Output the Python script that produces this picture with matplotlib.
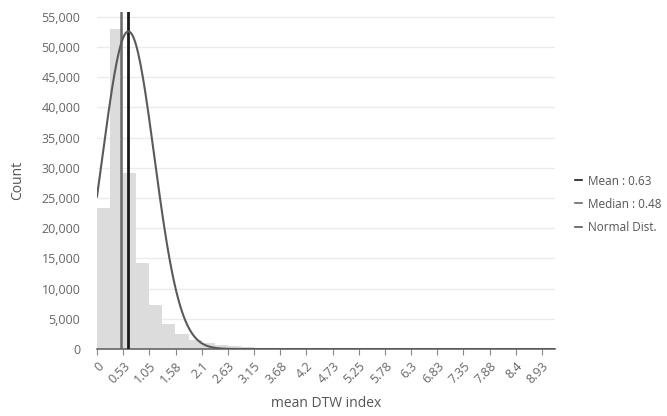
import matplotlib
matplotlib.use("Agg")
import matplotlib.pyplot as plt
import numpy as np
from matplotlib.lines import Line2D

plt.rcParams["font.family"] = ["Open Sans", "DejaVu Sans"]

# histogram of mean DTW index (bin width 0.2625)
bin_width = 0.2625
counts = [23400, 53000, 29100, 14200, 7300, 4150, 2450, 1550, 1000, 700,
          450, 300, 200, 150, 100, 80, 60, 50, 40, 30,
          25, 20, 15, 12, 10, 8, 6, 5, 4, 3,
          3, 2, 2, 1, 1]
mean_val = 0.63
median_val = 0.48
# normal curve parameters
norm_peak = 52600
norm_sigma = 0.52

x_ticks = [0, 0.53, 1.05, 1.58, 2.1, 2.63, 3.15, 3.68, 4.2, 4.73, 5.25,
           5.78, 6.3, 6.83, 7.35, 7.88, 8.4, 8.93]
x_tick_labels = ["0", "0.53", "1.05", "1.58", "2.1", "2.63", "3.15", "3.68",
                 "4.2", "4.73", "5.25", "5.78", "6.3", "6.83", "7.35", "7.88",
                 "8.4", "8.93"]
y_ticks = list(range(0, 55001, 5000))

fig = plt.figure(figsize=(6.67, 4.16), dpi=100)
ax = fig.add_axes([0.1454, 0.161, 0.6866, 0.81])

edges = np.arange(len(counts)) * bin_width
ax.bar(edges, counts, width=bin_width, align="edge", color="#dcdcdc",
       edgecolor="none", zorder=2)

xs = np.linspace(0, len(counts) * bin_width, 400)
ax.plot(xs, norm_peak * np.exp(-(xs - mean_val) ** 2 / (2 * norm_sigma ** 2)),
        color="#5a5a5a", lw=1.5, zorder=4)

ax.axvline(median_val, color="#6a6a6a", lw=1.8, zorder=3)
ax.axvline(mean_val, color="#1a1a1a", lw=2, zorder=3)

ax.set_xlim(0, len(counts) * bin_width)
ax.set_ylim(0, 55800)
ax.set_yticks(y_ticks)
ax.set_yticklabels([f"{v:,}" for v in y_ticks])
ax.set_xticks(x_ticks)
ax.set_xticklabels(x_tick_labels, rotation=45, ha="right",
                   rotation_mode="anchor")

ax.grid(axis="y", color="#ebebeb", lw=1, zorder=0)
ax.set_axisbelow(True)
for side in ["top", "right", "left"]:
    ax.spines[side].set_visible(False)
ax.spines["bottom"].set_color("#666666")
ax.spines["bottom"].set_linewidth(1.2)
ax.tick_params(axis="y", length=0, labelsize=9, labelcolor="#666666", pad=12)
ax.tick_params(axis="x", length=4, color="#888888", labelsize=9,
               labelcolor="#666666")

ax.set_xlabel("mean DTW index", fontsize=10, color="#555555", labelpad=7)
ax.set_ylabel("Count", fontsize=10, color="#555555", labelpad=12)

handles = [
    Line2D([], [], color="#1a1a1a", lw=1.2),
    Line2D([], [], color="#6a6a6a", lw=1.2),
    Line2D([], [], color="#5a5a5a", lw=1.2),
]
labels = ["Mean : 0.63", "Median : 0.48", "Normal Dist."]
ax.legend(handles, labels, loc="center left", bbox_to_anchor=(1.02, 0.43),
          frameon=False, handlelength=0.6, handletextpad=0.5,
          fontsize=8.5, labelcolor="#555555", labelspacing=0.85)

fig.savefig("out.png", dpi=100)
